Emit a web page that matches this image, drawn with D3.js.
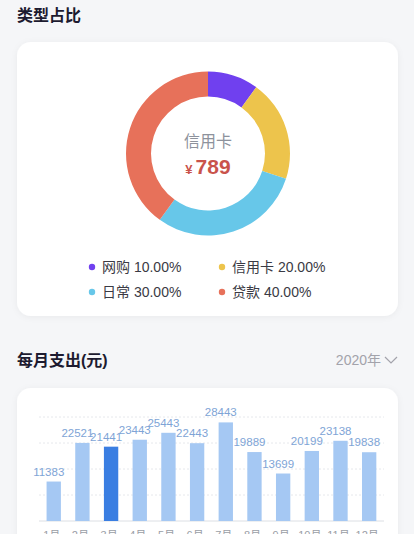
<!DOCTYPE html>
<html><head><meta charset="utf-8">
<script src="https://cdn.jsdelivr.net/npm/d3@7/dist/d3.min.js"></script>
<style>
html,body{margin:0;padding:0;background:#f5f6f8;width:414px;height:534px;overflow:hidden;}
svg{display:block;font-family:"Liberation Sans","Noto Sans CJK SC",sans-serif;}
</style></head>
<body><svg id="c" width="414" height="534"></svg>
<script>
const pieCategories = ["网购", "信用卡", "日常", "贷款"];
const pieValues = [10, 20, 30, 40];
const pieColors = ["#7040ef", "#edc44c", "#67c7e9", "#e7715a"];
const centerLabel = "信用卡";
const centerValue = "789";
const months = ["1月","2月","3月","4月","5月","6月","7月","8月","9月","10月","11月","12月"];
const monthValues = [11383, 22521, 21441, 23443, 25443, 22443, 28443, 19889, 13699, 20199, 23138, 19838];
const yTicks = [0, 7500, 15000, 22500, 30000];
const highlightMonth = "3月";
const yearLabel = "2020年";

const svg = d3.select("#c");
const defs = svg.append("defs");
const f = defs.append("filter").attr("id","sh").attr("x","-10%").attr("y","-10%").attr("width","120%").attr("height","130%");
f.append("feDropShadow").attr("dx",0).attr("dy",1).attr("stdDeviation",3).attr("flood-color","#000").attr("flood-opacity",0.05);

// Titles
svg.append("text").attr("x",17).attr("y",21).attr("font-size",16).attr("font-weight","bold").attr("fill","#1d1b30").text("类型占比");
svg.append("text").attr("x",17).attr("y",366).attr("font-size",16).attr("font-weight","bold").attr("fill","#1d1b30").text("每月支出(元)");
svg.append("text").attr("x",381).attr("y",365).attr("text-anchor","end").attr("font-size",14).attr("fill","#a3a3ab").text(yearLabel);
svg.append("path").attr("d","M385,357 L391,363 L397,357").attr("fill","none").attr("stroke","#a3a3ab").attr("stroke-width",1.2);

// Cards
svg.append("rect").attr("x",17).attr("y",42).attr("width",381).attr("height",274).attr("rx",14).attr("fill","#fff").attr("filter","url(#sh)");
svg.append("rect").attr("x",17).attr("y",388).attr("width",381).attr("height",200).attr("rx",14).attr("fill","#fff").attr("filter","url(#sh)");

// Donut
const cx = 208, cy = 153.5;
const pie = d3.pie().sort(null).value(d => d)(pieValues);
const arc = d3.arc().innerRadius(57).outerRadius(82);
const g = svg.append("g").attr("transform",`translate(${cx},${cy})`);
g.selectAll("path").data(pie).join("path").attr("d",arc).attr("fill",(d,i)=>pieColors[i]);
g.append("text").attr("y",-7).attr("text-anchor","middle").attr("font-size",16).attr("fill","#8d929c").text(centerLabel);
const cv = g.append("text").attr("y",20).attr("text-anchor","middle").attr("fill","#c9534b").attr("font-weight","bold");
cv.append("tspan").attr("font-size",13).text("¥");
cv.append("tspan").attr("font-size",21).attr("dx",3).text(centerValue);

// Legend
const total = d3.sum(pieValues);
const legX = [92, 222], legY = [267, 292];
pieCategories.forEach((c,i)=>{
  const x = legX[i%2], y = legY[Math.floor(i/2)];
  svg.append("circle").attr("cx",x).attr("cy",y).attr("r",3.2).attr("fill",pieColors[i]);
  svg.append("text").attr("x",x+10).attr("y",y+5).attr("font-size",14).attr("fill","#3a3a44")
    .text(c + " " + (pieValues[i]/total*100).toFixed(2) + "%");
});

// Bar chart
const x = d3.scaleBand().domain(months).range([39.4, 383.5]).paddingInner(0.5).paddingOuter(0.25);
const y = d3.scaleLinear().domain([0, 30000]).range([521, 417]);
const bc = svg.append("g");
bc.selectAll("line.grid").data(yTicks.slice(1)).join("line").attr("class","grid")
  .attr("x1",39).attr("x2",384).attr("y1",d=>y(d)).attr("y2",d=>y(d))
  .attr("stroke","#e6e8ec").attr("stroke-dasharray","2,2");
bc.append("line").attr("x1",39).attr("x2",384).attr("y1",y(0)).attr("y2",y(0)).attr("stroke","#dcdfe4");
bc.selectAll("rect").data(months).join("rect")
  .attr("x",d=>x(d)).attr("width",x.bandwidth())
  .attr("y",(d,i)=>y(monthValues[i])).attr("height",(d,i)=>y(0)-y(monthValues[i]))
  .attr("fill",d=>d===highlightMonth?"#3a7ee2":"#a5c8f3");
bc.selectAll("text.v").data(months).join("text").attr("class","v")
  .attr("x",d=>x(d)+x.bandwidth()/2-5).attr("y",(d,i)=>y(monthValues[i])-6)
  .attr("text-anchor","middle").attr("font-size",11.5).attr("fill","#7ea4d6")
  .text((d,i)=>monthValues[i]);
bc.selectAll("text.m").data(months).join("text").attr("class","m")
  .attr("x",d=>x(d)+x.bandwidth()/2-2).attr("y",539)
  .attr("text-anchor","middle").attr("font-size",11).attr("fill","#9a9ea6")
  .text(d=>d);
</script></body></html>
